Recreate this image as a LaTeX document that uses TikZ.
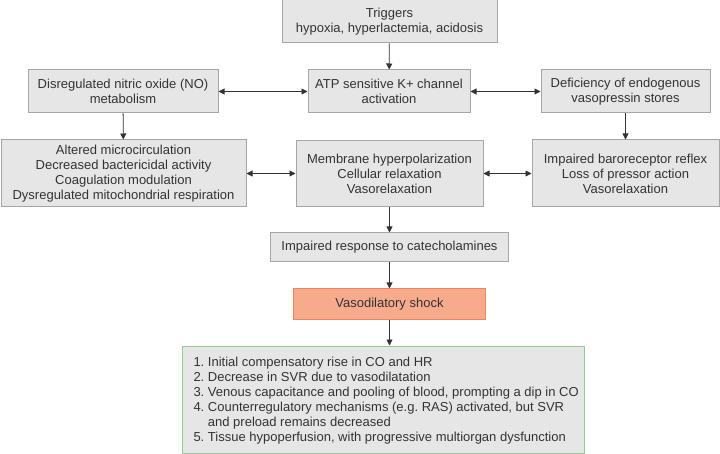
\documentclass[tikz,border=0pt]{standalone}
\usepackage{fontspec}
\setmainfont{Liberation Sans}
\usetikzlibrary{arrows.meta}
\definecolor{boxfill}{HTML}{E6E6E6}
\definecolor{boxdraw}{HTML}{A6A6A6}
\definecolor{shockfill}{HTML}{F8AA8C}
\definecolor{shockdraw}{HTML}{E88563}
\definecolor{greendraw}{HTML}{92CC8E}
\definecolor{linecol}{HTML}{333333}
\definecolor{txt}{HTML}{333333}
\begin{document}
\frenchspacing
\begin{tikzpicture}[x=1pt,y=-1pt,
  box/.style={draw=boxdraw,fill=boxfill,line width=1pt,align=center,inner sep=2pt,
    font=\fontsize{13}{15}\selectfont,text=txt},
  arr/.style={draw=linecol,line width=0.8pt,-{Triangle[length=6pt,width=6pt]}},
  darr/.style={draw=linecol,line width=0.8pt,{Triangle[length=6pt,width=6pt]}-{Triangle[length=6pt,width=6pt]}}]
\useasboundingbox[fill=white] (0,0) rectangle (720,454);
\node[box,minimum width=215pt,minimum height=43pt] (trig) at (389.5,21.5) {Triggers\\hypoxia, hyperlactemia, acidosis};
\node[box,minimum width=162pt,minimum height=43pt] (atp) at (389,91.5) {ATP sensitive K+ channel\\activation};
\node[box,minimum width=190pt,minimum height=43pt] (no) at (123,91.5) {Disregulated nitric oxide (NO)\\metabolism};
\node[box,minimum width=169pt,minimum height=43pt] (def) at (625.5,91.5) {Deficiency of endogenous\\vasopressin stores};
\node[box,minimum width=245pt,minimum height=67pt] (alt) at (123.5,173.5) {Altered microcirculation\\Decreased bactericidal activity\\Coagulation modulation\\Dysregulated mitochondrial respiration};
\node[box,minimum width=187pt,minimum height=66pt] (mem) at (389.5,173.5) {Membrane hyperpolarization\\Cellular relaxation\\Vasorelaxation};
\node[box,minimum width=187pt,minimum height=67pt] (bar) at (625.5,173.5) {Impaired baroreceptor reflex\\Loss of pressor action\\Vasorelaxation};
\node[box,minimum width=238pt,minimum height=29pt] (imp) at (389.5,247.5) {Impaired response to catecholamines};
\node[box,draw=shockdraw,fill=shockfill,minimum width=192pt,minimum height=30pt] (shock) at (389.5,304) {Vasodilatory shock};
\node[box,draw=greendraw,minimum width=402pt,minimum height=107pt] (green) at (383.5,399.5) {};
\node[box,draw=none,fill=none,align=left,anchor=west,inner sep=0pt] (greentext) at (193,400.5) {1. Initial compensatory rise in CO and HR\\2. Decrease in SVR due to vasodilatation\\3. Venous capacitance and pooling of blood, prompting a dip in CO\\4. Counterregulatory mechanisms (e.g. RAS) activated, but SVR\\\phantom{4. }and preload remains decreased\\5. Tissue hypoperfusion, with progressive multiorgan dysfunction};
\draw[arr] (trig) -- (atp);
\draw[arr] (no) -- (alt);
\draw[arr] (def) -- (bar);
\draw[darr] (no) -- (atp);
\draw[darr] (atp) -- (def);
\draw[darr] (alt) -- (mem);
\draw[darr] (mem) -- (bar);
\draw[arr] (mem) -- (imp);
\draw[arr] (imp) -- (shock);
\draw[arr] (shock.south) -- (shock.south |- green.north);
\end{tikzpicture}
\end{document}
